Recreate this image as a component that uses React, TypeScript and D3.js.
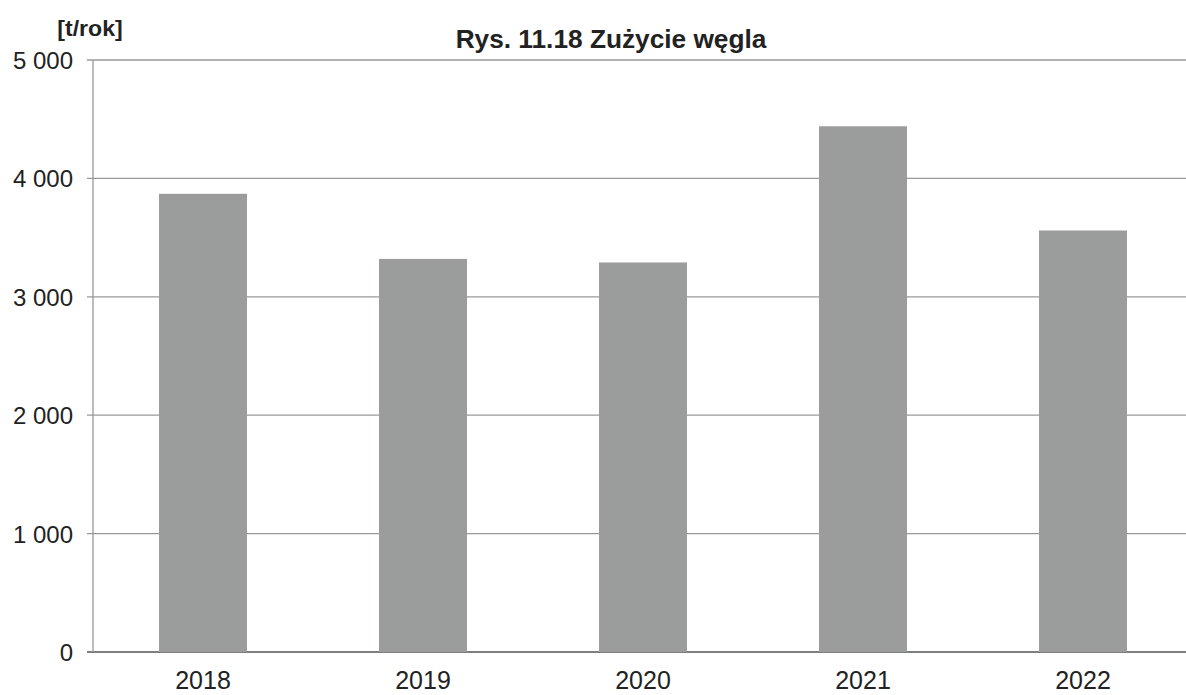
import React from 'react';
import * as d3 from 'd3';

const years = ['2018', '2019', '2020', '2021', '2022'];
const coal = [3870, 3320, 3290, 4440, 3560];
const yTicks = [0, 1000, 2000, 3000, 4000, 5000];

const W = 1186, H = 695;
const left = 93, bottom = 652, top = 60;

// slight horizontal stretch, the original is a scan
const Stretched = ({ x, y, sx, children, ...rest }: any) => (
  <text transform={`translate(${x},${y}) scale(${sx},1)`} {...rest}>{children}</text>
);

export default function App() {
  const x = d3.scaleBand<string>().domain(years).range([left, 1193]).paddingInner(0.6).paddingOuter(0.3);
  const y = d3.scaleLinear().domain([0, 5000]).range([bottom, top]);
  const fmt = (v: number) => d3.format(',')(v).replace(/,/g, ' ');

  return (
    <svg width={W} height={H} style={{ position: 'absolute', left: 0, top: 0, background: '#fff' }}
      fontFamily="Liberation Sans, Arial, sans-serif">
      <Stretched x={611} y={48} sx={1.05} textAnchor="middle" fontSize={25} fontWeight="bold" fill="#222">Rys. 11.18 Zużycie węgla</Stretched>
      <Stretched x={90} y={36} sx={1.05} textAnchor="middle" fontSize={22} fontWeight="bold" fill="#222">[t/rok]</Stretched>
      {yTicks.map(t => (
        <g key={t}>
          <line x1={left - 6} x2={W} y1={y(t)} y2={y(t)} stroke={t === 0 ? '#555' : '#999'} strokeWidth={t === 0 ? 1.5 : 1.3} />
          <text x={73} y={y(t) + 9} textAnchor="end" fontSize={24} fill="#222">{fmt(t)}</text>
        </g>
      ))}
      <line x1={left} x2={left} y1={top} y2={bottom} stroke="#999" strokeWidth={1.3} />
      {years.map((yr, i) => (
        <g key={yr}>
          <rect x={x(yr)} y={y(coal[i])} width={x.bandwidth()} height={bottom - y(coal[i])} fill="#9a9d9b" />
          <text x={(x(yr) as number) + x.bandwidth() / 2} y={689} textAnchor="middle" fontSize={25} fill="#222">{yr}</text>
        </g>
      ))}
    </svg>
  );
}
